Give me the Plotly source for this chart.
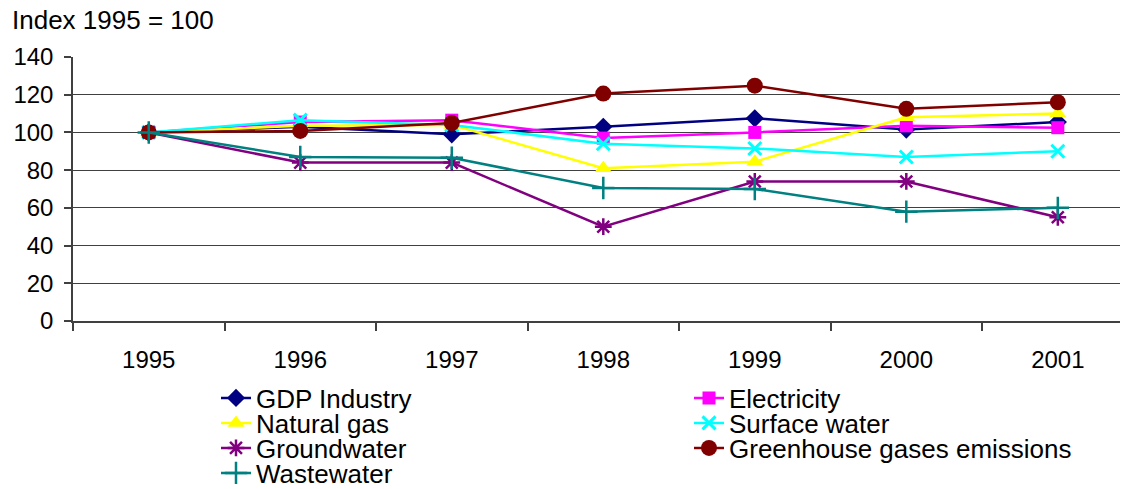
import plotly.graph_objects as go

years = ["1995", "1996", "1997", "1998", "1999", "2000", "2001"]

gdp_industry = [100, 103, 99, 103, 107.5, 101.5, 105.5]
electricity = [100, 105.5, 106.5, 97, 100, 103.5, 102.5]
natural_gas = [100, 103.5, 104, 81, 84.5, 108, 110]
surface_water = [100, 106.5, 104, 94, 91.5, 87, 90]
groundwater = [100, 84, 84, 50, 74, 74, 55]
greenhouse = [100, 100.8, 105, 120.6, 124.8, 112.5, 116]
wastewater = [100, 87, 86.6, 70.5, 70, 58, 60]

series = [
    ("GDP Industry", gdp_industry, "#000080", "diamond", 14, 0),
    ("Electricity", electricity, "#FF00FF", "square", 13, 0),
    ("Natural gas", natural_gas, "#FFFF00", "triangle-up", 15, 0),
    ("Surface water", surface_water, "#00FFFF", "x-thin", 13, 3),
    ("Groundwater", groundwater, "#800080", "asterisk", 14, 2.5),
    ("Greenhouse gases emissions", greenhouse, "#800000", "circle", 16, 0),
    ("Wastewater", wastewater, "#008080", "cross-thin", 16, 2.5),
]

# legend placement (figure pixels): (left x, center y)
legend_pos = [
    (208, 390), (681, 390),
    (208, 415), (681, 415),
    (208, 440), (681, 440),
    (208, 465),
]

W, H = 1128, 489
ML, MT, MB, MR = 65, 49, 176, 0
fig = go.Figure()
layout_legends = {}
for i, (name, vals, color, sym, size, lw) in enumerate(series):
    lname = "legend" if i == 0 else f"legend{i+1}"
    marker = dict(symbol=sym, size=size, color=color)
    if lw:
        marker["line"] = dict(color=color, width=lw)
    else:
        marker["line"] = dict(width=0)
    fig.add_trace(go.Scatter(
        x=years, y=vals, name=name, mode="lines+markers",
        line=dict(color=color, width=2.5), marker=marker,
        legend=lname, cliponaxis=False,
    ))
    lx, ly = legend_pos[i]
    layout_legends[lname] = dict(
        x=lx / W, y=1 - ly / H, xref="container", yref="container",
        xanchor="left", yanchor="middle",
        font=dict(family="Liberation Sans, Arial, sans-serif", size=26, color="black"),
        bgcolor="rgba(0,0,0,0)", borderwidth=0, itemwidth=30,
    )

fig.update_layout(
    width=W, height=H,
    margin=dict(l=ML, r=MR, t=MT, b=MB, autoexpand=False),
    paper_bgcolor="white", plot_bgcolor="white",
    font=dict(family="Liberation Sans, Arial, sans-serif", size=24, color="black"),
    showlegend=True,
    **layout_legends,
)
fig.update_xaxes(
    type="category", range=[-0.5, 6.516], automargin=False,
    showgrid=False, showline=True, linecolor="#404040", linewidth=1.5,
    ticks="outside", tickson="boundaries", ticklen=8, tickcolor="#404040", tickwidth=1.5,
    ticklabelstandoff=16, tickfont=dict(size=24), tickangle=0,
)
fig.update_yaxes(
    range=[0, 140], dtick=20, showgrid=True, gridcolor="#404040", gridwidth=1.2,
    showline=True, linecolor="#404040", linewidth=1.5, zeroline=False, automargin=False,
    ticks="outside", ticklen=7, tickcolor="#404040", tickwidth=1.5,
    ticklabelstandoff=6, tickfont=dict(size=24),
)
pw = W - ML - MR
ph = H - MT - MB
fig.add_annotation(
    text="Index 1995 = 100", x=(2 - ML) / pw, y=(H - MB - 12) / ph,
    xref="paper", yref="paper",
    showarrow=False, xanchor="left", yanchor="middle",
    font=dict(size=26, color="black"),
)

fig.write_html("out.html")
